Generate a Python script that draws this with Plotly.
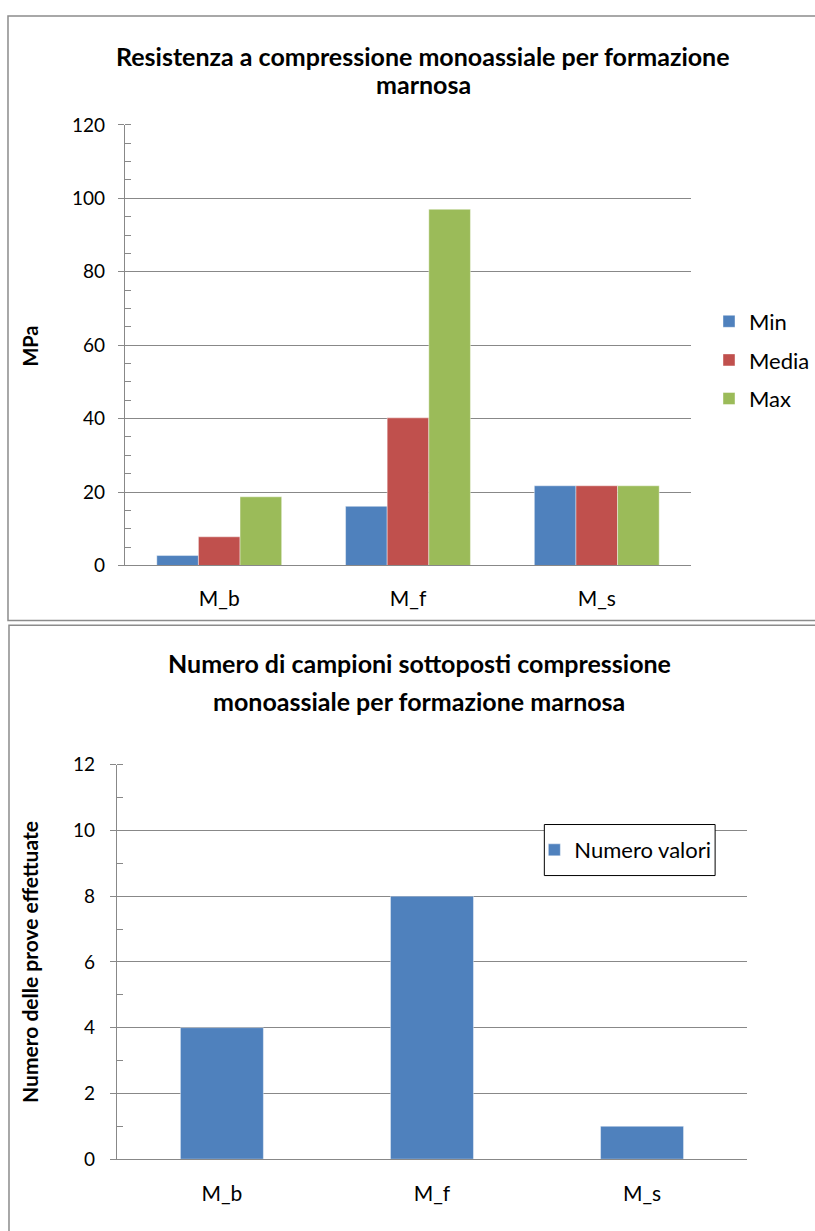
import plotly.graph_objects as go

# ---------------- data ----------------
categories = ["M_b", "M_f", "M_s"]
min_vals = [2.7, 16.1, 21.7]
media_vals = [7.8, 40.2, 21.7]
max_vals = [18.7, 97.0, 21.7]
series_names = ["Min", "Media", "Max"]

count_vals = [4, 8, 1]
count_name = "Numero valori"

top_title_lines = ["Resistenza a compressione monoassiale per formazione", "marnosa"]
top_ytitle = "MPa"
bot_title_lines = ["Numero di campioni sottoposti compressione", "monoassiale per formazione marnosa"]
bot_ytitle = "Numero delle prove effettuate"

# ---------------- layout helpers ----------------
W, H = 815, 1231
FONT = "Lato, Carlito, Calibri, sans-serif"
def px(x):
    return x / W
def py(y):
    return 1 - y / H

colors = ["#4F81BD", "#C0504D", "#9BBB59"]
grid_col = "#888888"

fig = go.Figure()

# top chart: grouped bars
bw = 0.2205
offsets = [-1.5 * bw, -0.5 * bw, 0.5 * bw]
for i, (name, vals) in enumerate(zip(series_names, [min_vals, media_vals, max_vals])):
    fig.add_trace(go.Bar(
        x=categories, y=vals, name=name, xaxis="x", yaxis="y",
        marker=dict(color=colors[i], line=dict(color="rgba(255,255,255,0.7)", width=0.6)),
        width=bw, offset=offsets[i], legend="legend", legendgroup=name,
    ))

# bottom chart
bw2 = 0.395
fig.add_trace(go.Bar(
    x=categories, y=count_vals, name=count_name, xaxis="x2", yaxis="y2",
    marker=dict(color=colors[0], line=dict(color="rgba(255,255,255,0.7)", width=0.6)),
    width=bw2, offset=-bw2 / 2, legend="legend2",
))

xfont = dict(family=FONT, size=21, color="#000000")
yfont = dict(family=FONT, size=19, color="#000000")
line_common = dict(showline=True, linecolor=grid_col, linewidth=1, mirror=False)

fig.update_layout(
    width=W, height=H,
    margin=dict(l=0, r=0, t=0, b=0),
    paper_bgcolor="white", plot_bgcolor="white",
    font=dict(family=FONT, size=19, color="#000000"),
    barmode="group",
    xaxis=dict(domain=[px(125), px(692)], anchor="y", type="category",
               ticks="", ticklabelstandoff=14, showgrid=False, tickfont=xfont, **line_common),
    yaxis=dict(domain=[py(564), py(115)], anchor="x", range=[0, 120], dtick=20,
               showgrid=True, gridcolor=grid_col, gridwidth=1, zeroline=False,
               ticks="outside", ticklen=6, tickcolor=grid_col, ticklabelstandoff=9,
               minor=dict(dtick=5, ticks="inside", ticklen=6, tickcolor=grid_col, showgrid=False),
               tickfont=yfont, **line_common),
    xaxis2=dict(domain=[px(117), px(748)], anchor="y2", type="category",
                ticks="", ticklabelstandoff=16, showgrid=False, tickfont=xfont, **line_common),
    yaxis2=dict(domain=[py(1169), py(767)], anchor="x2", range=[0, 12], dtick=2,
                showgrid=True, gridcolor=grid_col, gridwidth=1, zeroline=False,
                ticks="outside", ticklen=6, tickcolor=grid_col, ticklabelstandoff=11,
                minor=dict(dtick=1, ticks="inside", ticklen=6, tickcolor=grid_col, showgrid=False),
                tickfont=yfont, **line_common),
    legend=dict(x=px(710), y=py(294), xanchor="left", yanchor="top",
                font=dict(family=FONT, size=22, color="#000000"),
                traceorder="grouped", tracegroupgap=7, bgcolor="rgba(0,0,0,0)",
                borderwidth=0),
    legend2=dict(x=px(535), y=py(854), xanchor="left", yanchor="middle",
                 font=dict(family=FONT, size=22, color="#000000"),
                 bgcolor="rgba(0,0,0,0)", borderwidth=0),
    showlegend=True,
)

# legend box of the bottom chart (white-filled frame behind the legend)
fig.add_shape(type="rect", xref="paper", yref="paper", layer="above",
              x0=px(545), x1=px(716), y0=py(880), y1=py(828),
              line=dict(color="#000000", width=1), fillcolor="white")

# chart borders
fig.add_shape(type="rect", xref="paper", yref="paper",
              x0=px(8), x1=px(840), y0=py(620), y1=py(4),
              line=dict(color="#8c8c8c", width=1.5), fillcolor="rgba(0,0,0,0)")
fig.add_shape(type="rect", xref="paper", yref="paper",
              x0=px(9), x1=px(840), y0=py(1245), y1=py(625),
              line=dict(color="#8c8c8c", width=1.5), fillcolor="rgba(0,0,0,0)")

# titles (one annotation per line)
for txt, yy in zip(top_title_lines, [45, 73]):
    fig.add_annotation(text="<b>" + txt + "</b>", xref="paper", yref="paper",
                       x=px(424), y=py(yy), xanchor="center", yanchor="middle",
                       showarrow=False, font=dict(family=FONT, size=25, color="#000000"))
for txt, yy in zip(bot_title_lines, [663, 702]):
    fig.add_annotation(text="<b>" + txt + "</b>", xref="paper", yref="paper",
                       x=px(420), y=py(yy), xanchor="center", yanchor="middle",
                       showarrow=False, font=dict(family=FONT, size=25, color="#000000"))
fig.add_annotation(text="<b>" + top_ytitle + "</b>", xref="paper", yref="paper",
                   x=px(30), y=py(340), xanchor="center", yanchor="middle", textangle=-90,
                   showarrow=False, font=dict(family=FONT, size=20, color="#000000"))
fig.add_annotation(text="<b>" + bot_ytitle + "</b>", xref="paper", yref="paper",
                   x=px(30), y=py(968), xanchor="center", yanchor="middle", textangle=-90,
                   showarrow=False, font=dict(family=FONT, size=21, color="#000000"))

fig.write_html(
    "out.html",
    config={"displayModeBar": False},
    post_script=("document.documentElement.style.margin='0px';"
                 "document.body.style.margin='0px';"
                 "document.documentElement.style.overflow='hidden';"
                 "document.body.style.overflow='hidden';"),
)
